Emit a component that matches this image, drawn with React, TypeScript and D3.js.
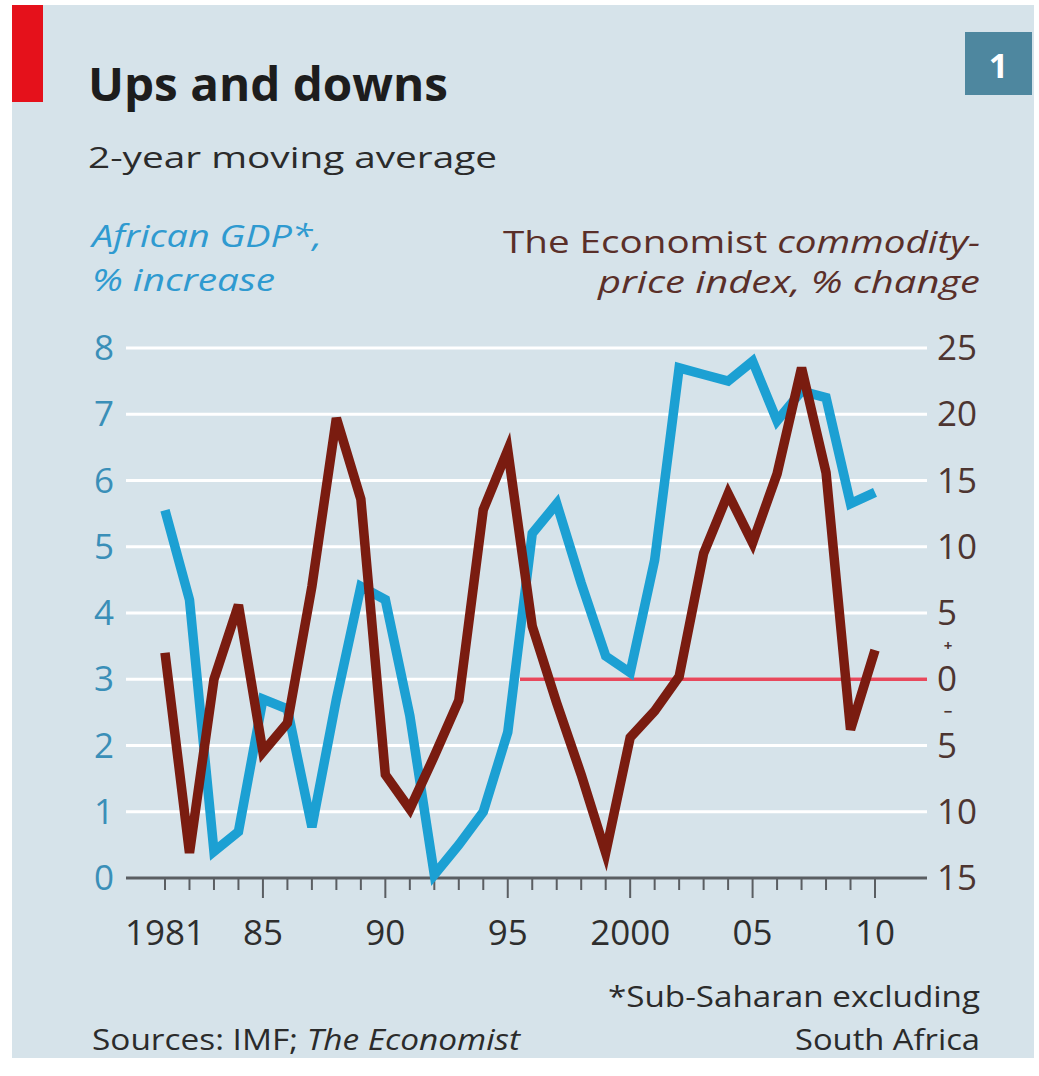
import React from "react";
import * as d3 from "d3";

const years = d3.range(1981, 2011);
const gdp = [5.55, 4.2, 0.4, 0.7, 2.7, 2.55, 0.77, 2.7, 4.4, 4.2, 2.45, 0.05, 0.5, 1.0, 2.2, 5.2, 5.65, 4.45, 3.35, 3.1, 4.8, 7.7, 7.6, 7.5, 7.8, 6.9, 7.35, 7.25, 5.65, 5.82];
const commodity = [2.0, -13.1, 0.0, 5.6, -5.5, -3.3, 7.0, 19.7, 13.6, -7.2, -9.8, -5.8, -1.6, 12.8, 17.3, 4.0, -1.8, -7.2, -13.1, -4.4, -2.4, 0.2, 9.5, 14.0, 10.3, 15.5, 23.5, 15.6, -3.8, 2.2];
const leftTicks = [0, 1, 2, 3, 4, 5, 6, 7, 8];
const rightTicks = [25, 20, 15, 10, 5, 0, -5, -10, -15];
const xLabelYears = [1981, 1985, 1990, 1995, 2000, 2005, 2010];
const xLabels = ["1981", "85", "90", "95", "2000", "05", "10"];
const zeroLineStartYear = 1995.5;

const W = 1039;
const H = 1076;
const FONT = "'Open Sans', 'DejaVu Sans', sans-serif";

export default function App() {
  const x = d3.scaleLinear().domain([1981, 2010]).range([165, 875]);
  const yL = d3.scaleLinear().domain([0, 8]).range([878, 348]);
  const yR = d3.scaleLinear().domain([-15, 25]).range([878, 348]);
  const gridX0 = 126;
  const gridX1 = 927;

  const gdpLine = d3
    .line<number>()
    .x((_, i) => x(years[i]))
    .y((d) => yL(d));
  const comLine = d3
    .line<number>()
    .x((_, i) => x(years[i]))
    .y((d) => yR(d));

  const blue = "#1ca0d3";
  const brown = "#7a1c10";
  const leftCol = "#3a8fb8";
  const rightCol = "#4d3531";
  const textCol = "#2b2b2b";

  return (
    <svg
      width={W}
      height={H}
      style={{ position: "absolute", left: 0, top: 0, display: "block" }}
      fontFamily={FONT}
    >
      <rect x={0} y={0} width={W} height={H} fill="#ffffff" />
      <rect x={12} y={5} width={1022} height={1053} fill="#d6e3ea" />
      <rect x={12} y={5} width={31} height={97} fill="#e5111b" />
      <rect x={965} y={32} width={67} height={63} fill="#4e879f" />
      <text x={998.5} y={78} textAnchor="middle" fill="#ffffff" fontSize={34} fontWeight={700}>
        1
      </text>

      <text x={88} y={101} fontSize={46} fontWeight={700} fill="#1d1d1d" textLength={360} lengthAdjust="spacingAndGlyphs">
        Ups and downs
      </text>
      <text x={88} y={168} fontSize={30} fontWeight={500} fill={textCol} textLength={409} lengthAdjust="spacingAndGlyphs">
        2-year moving average
      </text>

      <text x={92} y={247} fontSize={31} fontStyle="italic" fill="#2f9ad0" textLength={230} lengthAdjust="spacingAndGlyphs">
        African GDP*,
      </text>
      <text x={92} y={291} fontSize={31} fontStyle="italic" fill="#2f9ad0" textLength={183} lengthAdjust="spacingAndGlyphs">
        % increase
      </text>

      <text x={503} y={253} fontSize={31} fill="#5a2f29" textLength={477} lengthAdjust="spacingAndGlyphs">
        <tspan>The Economist </tspan>
        <tspan fontStyle="italic">commodity-</tspan>
      </text>
      <text x={598} y={293} fontSize={31} fontStyle="italic" fill="#5a2f29" textLength={382} lengthAdjust="spacingAndGlyphs">
        price index, % change
      </text>

      {/* gridlines */}
      {leftTicks
        .filter((t) => t > 0)
        .map((t) => (
          <line key={"g" + t} x1={gridX0} x2={gridX1} y1={yL(t)} y2={yL(t)} stroke="#ffffff" strokeWidth={3} />
        ))}
      <line
        x1={x(zeroLineStartYear)}
        x2={gridX1}
        y1={yR(0)}
        y2={yR(0)}
        stroke="#e8485c"
        strokeWidth={3.5}
      />

      {/* x axis */}
      <line x1={gridX0} x2={gridX1} y1={878} y2={878} stroke="#5a5e62" strokeWidth={3} />
      {years.map((yr) => (
        <line
          key={"t" + yr}
          x1={x(yr)}
          x2={x(yr)}
          y1={878}
          y2={yr % 5 === 0 ? 898 : 890}
          stroke="#5a5e62"
          strokeWidth={2}
        />
      ))}
      {xLabelYears.map((yr, i) => (
        <text key={"xl" + yr} x={x(yr)} y={945} textAnchor="middle" fontSize={35} fill="#2e2e2e">
          {xLabels[i]}
        </text>
      ))}

      {/* left ticks */}
      {leftTicks.map((t) => (
        <text key={"l" + t} x={114} y={yL(t) + 12} textAnchor="end" fontSize={35} fill={leftCol}>
          {t}
        </text>
      ))}
      {/* right ticks */}
      {rightTicks.map((t) => (
        <text key={"r" + t} x={937} y={yR(t) + 12} fontSize={35} fill={rightCol}>
          {Math.abs(t)}
        </text>
      ))}
      <text x={948} y={yR(2.5) + 5} textAnchor="middle" fontSize={15} fontWeight={700} fill={rightCol}>
        +
      </text>
      <text x={948} y={yR(-2.5) + 5} textAnchor="middle" fontSize={15} fontWeight={700} fill={rightCol}>
        −
      </text>

      {/* series */}
      <path d={gdpLine(gdp) || ""} fill="none" stroke={blue} strokeWidth={9.5} strokeLinejoin="miter" />
      <path d={comLine(commodity) || ""} fill="none" stroke={brown} strokeWidth={9.5} strokeLinejoin="miter" />

      {/* footnotes */}
      <text x={608} y={1007} fontSize={30} fill={textCol} textLength={372} lengthAdjust="spacingAndGlyphs">
        *Sub-Saharan excluding
      </text>
      <text x={795} y={1050} fontSize={30} fill={textCol} textLength={185} lengthAdjust="spacingAndGlyphs">
        South Africa
      </text>
      <text x={92} y={1050} fontSize={30} fill={textCol} textLength={428} lengthAdjust="spacingAndGlyphs">
        <tspan>Sources: IMF; </tspan>
        <tspan fontStyle="italic">The Economist</tspan>
      </text>
    </svg>
  );
}
